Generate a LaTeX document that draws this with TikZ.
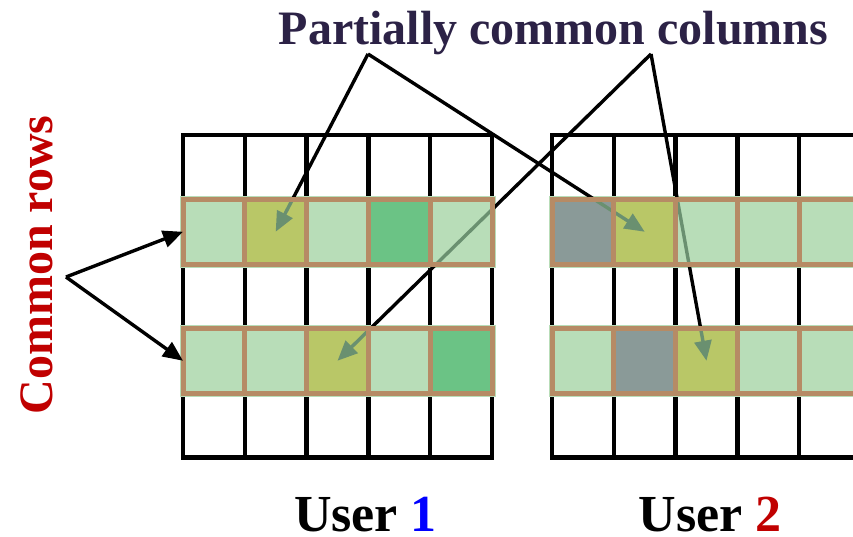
\documentclass[tikz,border=0pt]{standalone}
\usepackage{fontspec}
\setmainfont{Liberation Serif}
\usetikzlibrary{arrows.meta}
\definecolor{lgreen}{RGB}{184,221,184}
\definecolor{olivec}{RGB}{185,199,103}
\definecolor{mgreen}{RGB}{107,195,133}
\definecolor{gcell}{RGB}{138,154,152}
\definecolor{brownb}{RGB}{182,139,101}
\definecolor{arrowin}{RGB}{106,144,112}
\definecolor{titlec}{RGB}{44,34,70}
\definecolor{redc}{RGB}{192,0,0}
\definecolor{bluec}{RGB}{0,0,255}
\begin{document}
\begin{tikzpicture}[x=1pt,y=-1pt,
  gridline/.style={line width=4.5pt,line cap=rect,black},
  cellfill/.style={minimum width=61.8pt,minimum height=64.5pt,inner sep=0pt,outer sep=0pt,draw=none},
  brownline/.style={line width=5pt,draw=brownb},
  arr/.style={line width=3.4pt,-{Triangle[length=20pt,width=17pt]}},
  bigtext/.style={font=\bfseries\fontsize{48}{56}\selectfont,inner sep=0pt},
  usertext/.style={font=\bfseries\fontsize{52}{60}\selectfont,inner sep=0pt}
]
\useasboundingbox (0,0) rectangle (853,537);
\clip (0,0) rectangle (853,537);
% grids
\foreach \xo in {183,552}{
  \foreach \i in {0,...,5}{
    \draw[gridline] ({\xo+\i*61.8},135) -- ({\xo+\i*61.8},457.5);
    \draw[gridline] (\xo,{135+\i*64.5}) -- ({\xo+309},{135+\i*64.5});
  }
}
% apex coordinates
\coordinate (apexL) at (368,54);
\coordinate (apexR) at (651,54);
\coordinate (apexC) at (66,277);
% thin light-green rim around each strip
\foreach \xo in {183,552}{
  \foreach \yo in {199.5,328.5}{
    \fill[lgreen] ({\xo-3.5},{\yo-3.5}) rectangle ({\xo+312.5},{\yo+68});
  }
}
% cells (fill)
\foreach \c/\col in {1/lgreen,2/olivec,3/lgreen,4/mgreen,5/lgreen}
  \node[cellfill,fill=\col] (u1-2-\c) at ({183+(\c-0.5)*61.8},231.75) {};
\foreach \c/\col in {1/lgreen,2/lgreen,3/olivec,4/lgreen,5/mgreen}
  \node[cellfill,fill=\col] (u1-4-\c) at ({183+(\c-0.5)*61.8},360.75) {};
\foreach \c/\col in {1/gcell,2/olivec,3/lgreen,4/lgreen,5/lgreen}
  \node[cellfill,fill=\col] (u2-2-\c) at ({552+(\c-0.5)*61.8},231.75) {};
\foreach \c/\col in {1/lgreen,2/gcell,3/olivec,4/lgreen,5/lgreen}
  \node[cellfill,fill=\col] (u2-4-\c) at ({552+(\c-0.5)*61.8},360.75) {};
% black arrows (outside strips)
\begin{scope}[even odd rule]
  \clip (0,0) rectangle (853,537)
    (u1-2-1.north west) rectangle (u1-2-5.south east)
    (u1-4-1.north west) rectangle (u1-4-5.south east)
    (u2-2-1.north west) rectangle (u2-2-5.south east)
    (u2-4-1.north west) rectangle (u2-4-5.south east);
  \draw[arr] (apexL) -- (u1-2-2.center);
  \draw[arr] (apexL) -- (u2-2-2.center);
  \draw[arr] (apexR) -- (u1-4-3.center);
  \draw[arr] (apexR) -- (u2-4-3.center);
\end{scope}
% tinted arrows inside strips
\begin{scope}
  \clip (u1-2-1.north west) rectangle (u1-2-5.south east)
    (u1-4-1.north west) rectangle (u1-4-5.south east)
    (u2-2-1.north west) rectangle (u2-2-5.south east)
    (u2-4-1.north west) rectangle (u2-4-5.south east);
  \draw[arr,arrowin] (apexL) -- (u1-2-2.center);
  \draw[arr,arrowin] (apexL) -- (u2-2-2.center);
  \draw[arr,arrowin] (apexR) -- (u1-4-3.center);
  \draw[arr,arrowin] (apexR) -- (u2-4-3.center);
\end{scope}
% brown borders
\foreach \u in {1,2}{
  \foreach \r in {2,4}{
    \foreach \c in {1,...,5}{
      \draw[brownline] (u\u-\r-\c.north west) rectangle (u\u-\r-\c.south east);
    }
  }
}
% common rows arrows
\draw[arr] (apexC) -- (u1-2-1.west);
\draw[arr] (apexC) -- (u1-4-1.west);
% labels
\node[bigtext,text=titlec,anchor=base] (title) at (553.5,45) {Partially common columns};
\node[bigtext,text=redc,anchor=base,rotate=90] (rows) at (52,265) {Common rows};
\node[usertext,anchor=base] (user1) at (365.5,531) {User \textcolor{bluec}{1}};
\node[usertext,anchor=base] (user2) at (710,531) {User \textcolor{redc}{2}};
\end{tikzpicture}
\end{document}
